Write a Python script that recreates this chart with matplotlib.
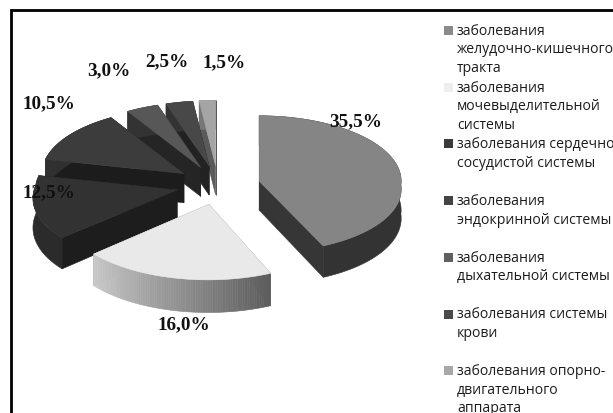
import numpy as np
import matplotlib
matplotlib.use('Agg')
import matplotlib.pyplot as plt
from matplotlib.patches import Polygon, Rectangle

# Data
values = [35.5, 16.0, 12.5, 10.5, 3.0, 2.5, 1.5]
legend_labels = [
    'заболевания\nжелудочно-кишечного\nтракта',
    'заболевания\nмочевыделительной\nсистемы',
    'заболевания сердечно-\nсосудистой системы',
    'заболевания\nэндокринной системы',
    'заболевания\nдыхательной системы',
    'заболевания системы\nкрови',
    'заболевания опорно-\nдвигательного\nаппарата',
]
top_colors = ['#858585', '#e9e9e9', '#323232', '#3c3c3c', '#575757', '#484848', '#a5a5a5']
wall_colors = ['#363636', '#8a8a8a', '#1d1d1d', '#1c1c1c', '#252525', '#222222', '#5a5a5a']
arc_colors = ['#333333', None, '#2b2b2b', '#303030', '#333333', '#333333', '#777777']
legend_colors = ['#8a8a8a', '#eeeeee', '#3a3a3a', '#444444', '#606060', '#4a4a4a', '#a8a8a8']
label_pos = [(356, 122), (184, 325), (49, 193), (49, 104), (109, 71), (167, 62), (224, 63)]

# Pie geometry, in pixels
cx, cy = 218, 186
radius = 142
explode = 42
tilt = 0.46
height = 29
persp = 0.12


def project(t, r, mid, z=0.0):
    # t and mid in degrees, clockwise from the top of the pie
    a, m = np.radians(t), np.radians(mid)
    dx = explode * np.sin(m) + r * np.sin(a)
    dy = -tilt * (explode * np.cos(m) + r * np.cos(a))
    s = 1 + persp * np.maximum(dy, 0) / 80
    return cx + dx * s, cy + dy * s + z * s


def quad(ax, xs, ys, color, zorder):
    ax.add_patch(Polygon(np.column_stack([xs, ys]), closed=True, facecolor=color,
                         edgecolor=color, lw=0.4, zorder=zorder))


fig = plt.figure(figsize=(6.13, 4.14), dpi=100)
ax = fig.add_axes([0, 0, 1, 1])
ax.set_xlim(0, 613)
ax.set_ylim(414, 0)
ax.axis('off')

# Frame around the chart area
ax.plot([11, 11, 613], [414, 11, 11], color='black', lw=2.0, solid_joinstyle='miter', zorder=1)

total = sum(values)
edges = np.concatenate([[0], np.cumsum(values) / total * 360])

# Slices are painted from the back of the pie to the front
for order, i in enumerate([6, 5, 4, 3, 2, 0, 1]):
    t0, t1 = edges[i], edges[i + 1]
    mid = (t0 + t1) / 2
    z = 10 + order * 5
    ts = np.linspace(t0, t1, 80)

    # side walls along both radii
    for t in (t0, t1):
        xa, ya = project(t, 0, mid)
        xb, yb = project(t, radius, mid)
        xc, yc = project(t, radius, mid, height)
        xd, yd = project(t, 0, mid, height)
        quad(ax, [xa, xb, xc, xd], [ya, yb, yc, yd], wall_colors[i], z)

    # outer wall, the light slice fades from left to right
    xu, yu = project(ts, radius, mid)
    xl, yl = project(ts, radius, mid, height)
    if arc_colors[i] is None:
        for j in range(len(ts) - 1):
            g = 0.36 + 0.44 * (ts[j] - t0) / (t1 - t0)
            quad(ax, [xu[j], xu[j + 1], xl[j + 1], xl[j]], [yu[j], yu[j + 1], yl[j + 1], yl[j]],
                 (g, g, g), z + 1)
    else:
        quad(ax, np.r_[xu, xl[::-1]], np.r_[yu, yl[::-1]], arc_colors[i], z + 1)

    # top face
    xs, ys = project(ts, radius, mid)
    ax0, ay0 = project(mid, 0, mid)
    quad(ax, np.r_[ax0, xs], np.r_[ay0, ys], top_colors[i], z + 2)

# Value labels
for v, (x, y) in zip(values, label_pos):
    ax.text(x, y, f'{v:.1f}%'.replace('.', ','), family='Liberation Serif', weight='bold',
            fontsize=13.8, color='#111111', ha='center', va='center', zorder=60)

# Legend on the right
for i, (label, color) in enumerate(zip(legend_labels, legend_colors)):
    y = 31.5 + 56.7 * i
    ax.add_patch(Rectangle((444, y - 4.5), 9, 9, facecolor=color, edgecolor='none', zorder=60))
    ax.text(457, y - 7.5, label, family='Open Sans', fontsize=10.1, color='#1c1c1c',
            linespacing=1.31, ha='left', va='top', zorder=60)

fig.savefig('out.png', dpi=100, facecolor='white')
